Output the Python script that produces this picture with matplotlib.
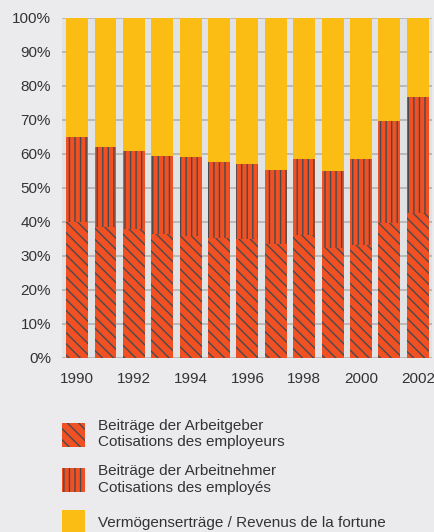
import matplotlib
matplotlib.use('Agg')
from matplotlib import pyplot as plt

years = list(range(1990, 2003))
arbeitgeber = [40.0, 38.4, 37.9, 36.5, 35.9, 35.3, 35.0, 33.5, 36.2, 32.4, 33.1, 39.7, 42.5]
total_beitraege = [65.0, 62.1, 60.8, 59.4, 59.1, 57.6, 57.1, 55.3, 58.5, 54.9, 58.4, 69.6, 76.7]
arbeitnehmer = [t - a for t, a in zip(total_beitraege, arbeitgeber)]
vermoegen = [100 - t for t in total_beitraege]

labels = ['Beiträge der Arbeitgeber\nCotisations des employeurs',
          'Beiträge der Arbeitnehmer\nCotisations des employés',
          'Vermögenserträge / Revenus de la fortune']
xticks = [1990, 1992, 1994, 1996, 1998, 2000, 2002]

orange = '#f15023'
yellow = '#fbbc14'

plt.rcParams['font.family'] = ['Liberation Sans', 'DejaVu Sans']
plt.rcParams['hatch.color'] = '#4a4a4e'
plt.rcParams['hatch.linewidth'] = 1.0

fig = plt.figure(figsize=(4.35, 5.32), dpi=100, facecolor='#ebebed')
ax = fig.add_axes([62/435, 174.3/532, 370/435, 340/532])
ax.set_facecolor('#e1e2e4')

w = 0.77
b1 = ax.bar(years, arbeitgeber, w, color=orange, hatch='\\\\\\', linewidth=0)
b2 = ax.bar(years, arbeitnehmer, w, bottom=arbeitgeber, color=orange, hatch='|||', linewidth=0)
b3 = ax.bar(years, vermoegen, w, bottom=total_beitraege, color=yellow, linewidth=0)

ax.set_xlim(1989.47, 2002.5)
ax.set_ylim(0, 100)
ax.set_yticks(range(0, 101, 10))
ax.set_yticklabels([f'{v}%' for v in range(0, 101, 10)])
ax.set_xticks(xticks)
ax.tick_params(length=0, labelsize=11, colors='#333333')
ax.tick_params(axis='y', pad=8)
ax.tick_params(axis='x', pad=10)
ax.grid(axis='y', color='#b3b3b3', linewidth=1.2)
ax.set_axisbelow(True)
for s in ax.spines.values():
    s.set_visible(False)

fig.legend([b1, b2, b3], labels, loc='upper left',
           bbox_to_anchor=(62/435, 1 - 419/532), frameon=False,
           borderpad=0, borderaxespad=0, handlelength=1.5, handleheight=2.0,
           handletextpad=0.85, labelspacing=1.0, fontsize=11, labelcolor='#333333')

plt.savefig('out.png', dpi=100, facecolor=fig.get_facecolor())
